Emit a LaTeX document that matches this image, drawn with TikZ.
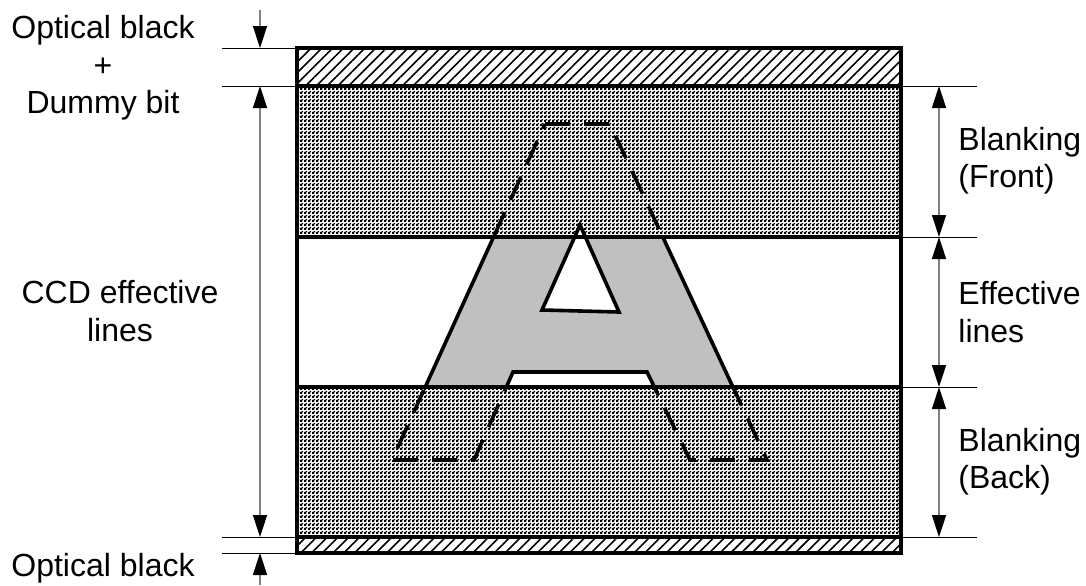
\documentclass[tikz,border=0pt]{standalone}
\usepackage{fontspec}
\setmainfont{Liberation Sans}
\usetikzlibrary{arrows.meta,patterns.meta}

\definecolor{ccdGray}{HTML}{C0C0C0}
\definecolor{ccdShaft}{HTML}{808080}

\tikzdeclarepattern{
  name=ccdmesh,
  type=uncolored,
  bottom left={(0pt,0pt)},
  top right={(2pt,2pt)},
  tile size={(2pt,2pt)},
  code={
    \fill (0pt,0pt) rectangle (1.3pt,1.3pt);
    \fill (1pt,1pt) rectangle (2pt,2pt);
  }
}

\tikzset{
  lbl/.style={inner sep=0pt, font=\fontsize{16}{18.7}\selectfont},
  dimline/.style={draw=ccdShaft, line width=0.75pt},
  extline/.style={draw=black, line width=0.5pt},
  frameline/.style={draw=black, line width=1.6pt},
  aline/.style={draw=black, line width=1.8pt, line join=miter},
  adash/.style={aline, dash pattern=on 12.5pt off 7pt},
  tip/.tip={Triangle[length=11pt, width=7pt, color=black]}
}

\begin{document}
\begin{tikzpicture}[x=0.5pt, y=-0.5pt]
\useasboundingbox (0,0) rectangle (1086,585);
% bands
\fill[pattern={Lines[angle=45, distance=3.8pt, line width=0.8pt]}] (297,48) rectangle (901,86);
\fill[pattern=ccdmesh] (297,86) rectangle (901,237);
\fill[pattern=ccdmesh] (297,387) rectangle (901,537);
\fill[pattern={Lines[angle=45, distance=3.8pt, line width=0.8pt]}] (297,537) rectangle (901,553);
% letter A, solid part
\begin{scope}
  \clip (297,237) rectangle (901,387);
  \filldraw[aline, fill=ccdGray] (545,124) -- (610,124) -- (767,460) -- (690,460) -- (647,372)
    -- (513,372) -- (474,460) -- (392,460) -- cycle;
\end{scope}
% letter A, dashed part
\begin{scope}
  \clip (297,48) rectangle (901,237) (297,387) rectangle (901,553);
  \draw[adash] (545,124) -- (610,124) -- (767,460) -- (690,460) -- (647,372)
    -- (513,372) -- (474,460) -- (392,460) -- cycle;
\end{scope}
\filldraw[aline, fill=white] (580,225) -- (619,312) -- (542,310) -- cycle;
% frame
\foreach \y in {86,237,387,537}
  \draw[frameline] (297,\y) -- (901,\y);
\draw[frameline] (297,48) rectangle (901,553);
% extension lines
\foreach \y in {48,86,537,553}
  \draw[extline] (222,\y) -- (297,\y);
\foreach \y in {86,237,387,537}
  \draw[extline] (901,\y) -- (977,\y);
% dimension points
\coordinate (Ltop) at (260,10);
\coordinate (Lbot) at (260,585);
\foreach \n/\y in {a/48,b/86,c/237,d/387,e/537,f/553} {
  \coordinate (L\n) at (260,\y);
  \coordinate (R\n) at (939,\y);
}
% arrows
\draw[dimline, -tip] (Ltop) -- (La);
\draw[dimline, tip-tip] (Lb) -- (Le);
\draw[dimline, -tip] (Lbot) -- (Lf);
\draw[dimline, tip-tip] (Rb) -- (Rc);
\draw[dimline, tip-tip] (Rc) -- (Rd);
\draw[dimline, tip-tip] (Rd) -- (Re);
% labels
\node[lbl, align=center] (obdummy) at (103,68) {Optical black\\+\\Dummy bit};
\node[lbl, align=center] (ccdeff) at (120,311) {CCD effective\\lines};
\node[lbl, align=center] (obbottom) at (103,568) {Optical black};
\node[lbl, anchor=west, align=left] (blfront) at (958,161) {Blanking\\(Front)};
\node[lbl, anchor=west, align=left] (efflines) at (958,312) {Effective\\lines};
\node[lbl, anchor=west, align=left] (blback) at (958,462) {Blanking\\(Back)};
\end{tikzpicture}
\end{document}
